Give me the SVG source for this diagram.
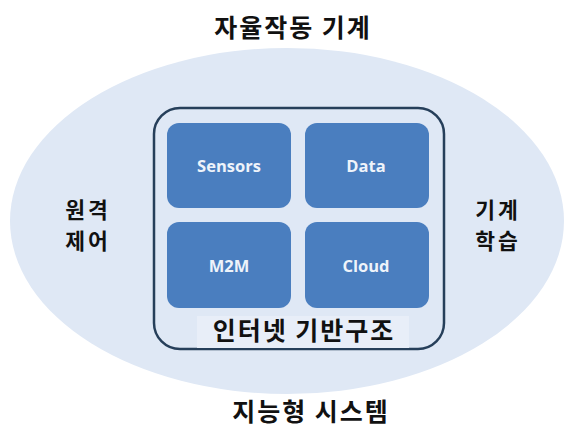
<svg xmlns="http://www.w3.org/2000/svg" width="574" height="429" viewBox="0 0 574 429">
<style>
.t{font-family:"Noto Sans CJK KR","Noto Sans",sans-serif;font-weight:bold;fill:#111;text-anchor:middle}
.b{fill:#4a7ebf}
.bt{font-family:"Open Sans","Liberation Sans",sans-serif;font-weight:bold;font-size:16.5px;fill:#eef3fa;text-anchor:middle}
</style>
<rect width="574" height="429" fill="#fff"/>
<ellipse cx="287" cy="221" rx="277" ry="173" fill="#dfe8f5"/>
<text class="t" x="293" y="37" font-size="25" letter-spacing="2">자율작동 기계</text>
<text class="t" x="311" y="421" font-size="25" letter-spacing="2">지능형 시스템</text>
<g id="left"><text class="t" font-size="21.5" letter-spacing="3"><tspan x="88" y="218">원격</tspan><tspan x="88" y="249">제어</tspan></text></g>
<g id="right"><text class="t" font-size="21.5" letter-spacing="3"><tspan x="498" y="218">기계</tspan><tspan x="498" y="249">학습</tspan></text></g>
<g id="infra">
<rect x="154" y="108" width="290" height="241" rx="26" fill="#dfe8f5" stroke="#263f5a" stroke-width="2.5"/>
<rect x="197" y="316" width="212" height="32" fill="#e8eef8"/>
<text class="t" x="304" y="340" font-size="25" letter-spacing="2">인터넷 기반구조</text>
</g>
<g id="sensors"><rect class="b" x="167" y="123" width="124" height="85" rx="12"/><text class="bt" x="229" y="172">Sensors</text></g>
<g id="data"><rect class="b" x="305" y="123" width="124" height="85" rx="12"/><text class="bt" x="366" y="172">Data</text></g>
<g id="m2m"><rect class="b" x="167" y="222" width="124" height="86" rx="12"/><text class="bt" x="229" y="272">M2M</text></g>
<g id="cloud"><rect class="b" x="305" y="222" width="124" height="86" rx="12"/><text class="bt" x="366" y="272">Cloud</text></g>
<g id="connectors"/>
</svg>
